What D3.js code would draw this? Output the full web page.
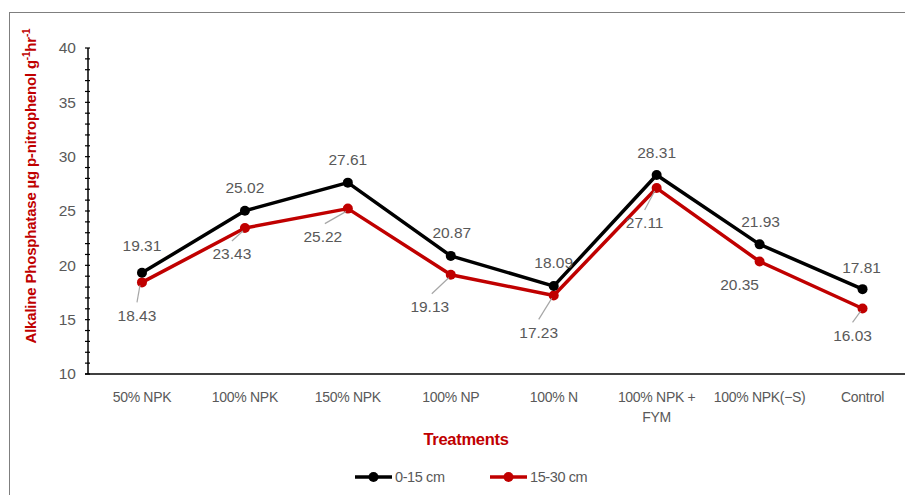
<!DOCTYPE html>
<html>
<head>
<meta charset="utf-8">
<script src="https://cdn.jsdelivr.net/npm/d3@7"></script>
<style>
  html, body { margin: 0; padding: 0; background: #fff; }
  svg { display: block; font-family: "Liberation Sans", Arial, sans-serif; }
</style>
</head>
<body>
<svg id="chart" width="905" height="495"></svg>
<script>
const W = 905;
const H = 495;

// data
const treatments = ["50% NPK", "100% NPK", "150% NPK", "100% NP", "100% N", "100% NPK + FYM", "100% NPK(\u2212S)", "Control"];
const depth0_15 = [19.31, 25.02, 27.61, 20.87, 18.09, 28.31, 21.93, 17.81];
const depth15_30 = [18.43, 23.43, 25.22, 19.13, 17.23, 27.11, 20.35, 16.03];
const seriesNames = ["0-15 cm", "15-30 cm"];
const yTicks = [10, 15, 20, 25, 30, 35, 40];

// label placement (offset from the point), leader = draw a gray line
const topOffsets = [[0, -27], [0, -23], [0, -23], [1, -23], [0, -24], [0, -22], [1, -23], [-1, -22]];
const lowOffsets = [
  { dx: -5, dy: 33, leader: true },
  { dx: -13, dy: 26, leader: true },
  { dx: -25, dy: 28, leader: true },
  { dx: -21, dy: 32, leader: true },
  { dx: -15, dy: 37, leader: true },
  { dx: -12, dy: 35, leader: true },
  { dx: -20, dy: 23, leader: false },
  { dx: -10, dy: 27, leader: true }
];

const colors = ["#000000", "#C00000"];
const gray = "#595959";

const margin = { left: 88, top: 48, bottom: 374 };
const svg = d3.select("#chart");

// outer frame
svg.append("rect")
  .attr("x", 9.5).attr("y", 12.5)
  .attr("width", 930).attr("height", 520)
  .attr("fill", "none").attr("stroke", "#7f7f7f").attr("stroke-width", 1);

const x = d3.scaleBand().domain(treatments).range([90.5, 914]);
const y = d3.scaleLinear().domain([10, 40]).range([margin.bottom, margin.top]);

// y axis with minor ticks
const yAxisG = svg.append("g").attr("transform", `translate(${margin.left},0)`);
yAxisG.append("line")
  .attr("y1", y(40)).attr("y2", y(10))
  .attr("stroke", "#000").attr("stroke-width", 1.5);
yAxisG.selectAll("line.minor")
  .data(d3.range(10, 41, 1))
  .join("line")
  .attr("class", "minor")
  .attr("x1", -3).attr("x2", 2)
  .attr("y1", (d) => y(d)).attr("y2", (d) => y(d))
  .attr("stroke", "#000").attr("stroke-width", 1.2);
yAxisG.selectAll("text")
  .data(yTicks)
  .join("text")
  .attr("x", -12)
  .attr("y", (d) => y(d))
  .attr("dy", "0.35em")
  .attr("text-anchor", "end")
  .attr("fill", gray)
  .attr("font-size", 15.5)
  .text((d) => d);

// x axis
svg.append("line")
  .attr("x1", margin.left - 3).attr("x2", W)
  .attr("y1", y(10)).attr("y2", y(10))
  .attr("stroke", "#000").attr("stroke-width", 1.5);

const xLabels = svg.append("g").selectAll("text")
  .data(treatments)
  .join("text")
  .attr("x", (d) => x(d) + x.bandwidth() / 2)
  .attr("y", 402)
  .attr("text-anchor", "middle")
  .attr("fill", gray)
  .attr("font-size", 14)
  .attr("letter-spacing", -0.3);
xLabels.each(function (d) {
  const t = d3.select(this);
  const parts = d === "100% NPK + FYM" ? ["100% NPK +", "FYM"] : [d];
  parts.forEach((p, i) => {
    t.append("tspan")
      .attr("x", x(d) + x.bandwidth() / 2)
      .attr("dy", i === 0 ? 0 : 20)
      .text(p);
  });
});

// axis titles
svg.append("text")
  .attr("x", 466).attr("y", 445)
  .attr("text-anchor", "middle")
  .attr("fill", "#C00000")
  .attr("font-size", 16.5)
  .attr("font-weight", "bold")
  .attr("letter-spacing", -0.3)
  .text("Treatments");

const yTitle = svg.append("text")
  .attr("transform", `translate(36,186) rotate(-90)`)
  .attr("text-anchor", "middle")
  .attr("fill", "#C00000")
  .attr("font-size", 15)
  .attr("font-weight", "bold")
  .attr("letter-spacing", -0.2);
yTitle.append("tspan").text("Alkaline Phosphatase \u00b5g p-nitrophenol g");
yTitle.append("tspan").attr("dy", -6).attr("font-size", 10).text("-1");
yTitle.append("tspan").attr("dy", 6).text("hr");
yTitle.append("tspan").attr("dy", -6).attr("font-size", 10).text("-1");

const cx = (i) => x(treatments[i]) + x.bandwidth() / 2;
const line = d3.line().x((d, i) => cx(i)).y((d) => y(d));

[depth15_30, depth0_15].forEach((vals) => {
  const ci = vals === depth0_15 ? 0 : 1;
  const g = svg.append("g");
  g.append("path")
    .attr("d", line(vals))
    .attr("fill", "none")
    .attr("stroke", colors[ci])
    .attr("stroke-width", 3.5)
    .attr("stroke-linejoin", "round");
  g.selectAll("circle")
    .data(vals)
    .join("circle")
    .attr("cx", (d, i) => cx(i))
    .attr("cy", (d) => y(d))
    .attr("r", 5)
    .attr("fill", colors[ci]);
});

// data labels, upper series
svg.append("g").selectAll("text")
  .data(depth0_15)
  .join("text")
  .attr("x", (d, i) => cx(i) + topOffsets[i][0])
  .attr("y", (d, i) => y(d) + topOffsets[i][1])
  .attr("dy", "0.35em")
  .attr("text-anchor", "middle")
  .attr("fill", gray)
  .attr("font-size", 15.5)
  .text((d) => d.toFixed(2));

// data labels, lower series with leader lines
const low = svg.append("g");
depth15_30.forEach((d, i) => {
  const o = lowOffsets[i];
  const px = cx(i), py = y(d);
  const lx = px + o.dx, ly = py + o.dy;
  if (o.leader) {
    const sx = lx + (o.dx < -15 ? 2 : 0);
    const sy = ly - 13;
    low.append("line")
      .attr("x1", sx).attr("y1", sy)
      .attr("x2", px - 2).attr("y2", py + 3)
      .attr("stroke", "#a6a6a6").attr("stroke-width", 1.2);
  }
  low.append("text")
    .attr("x", lx).attr("y", ly)
    .attr("dy", "0.35em")
    .attr("text-anchor", "middle")
    .attr("fill", gray)
    .attr("font-size", 15.5)
    .text(d.toFixed(2));
});

// legend
const legend = svg.append("g");
const legendX = [355, 490];
seriesNames.forEach((name, i) => {
  const lg = legend.append("g").attr("transform", `translate(${legendX[i]},477)`);
  lg.append("line").attr("x1", 0).attr("x2", 37)
    .attr("stroke", colors[i]).attr("stroke-width", 3.5);
  lg.append("circle").attr("cx", 18.5).attr("r", 5).attr("fill", colors[i]);
  lg.append("text")
    .attr("x", 40).attr("dy", "0.35em")
    .attr("fill", gray)
    .attr("font-size", 14.5)
    .attr("letter-spacing", -0.4)
    .text(name);
});
</script>
</body>
</html>
